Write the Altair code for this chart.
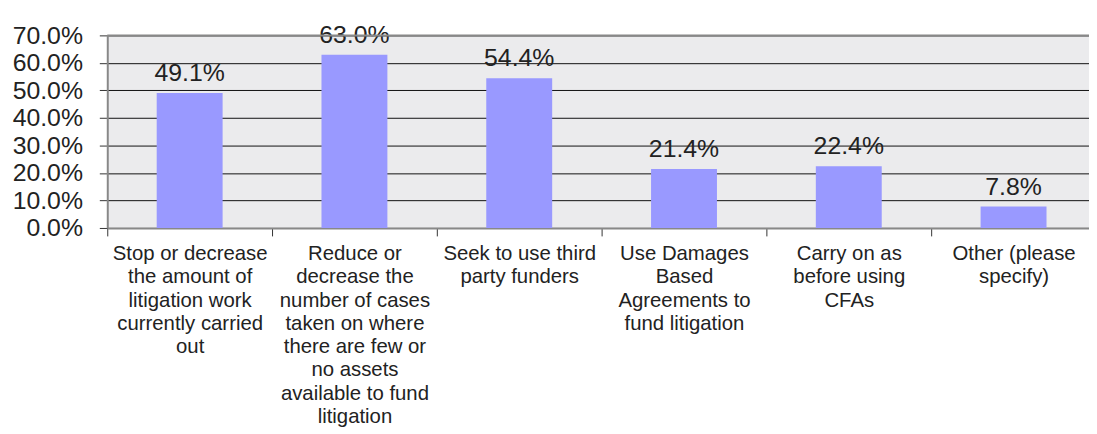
import altair as alt
import pandas as pd

categories = [
    "Stop or decrease|the amount of|litigation work|currently carried|out",
    "Reduce or|decrease the|number of cases|taken on where|there are few or|no assets|available to fund|litigation",
    "Seek to use third|party funders",
    "Use Damages|Based|Agreements to|fund litigation",
    "Carry on as|before using|CFAs",
    "Other (please|specify)",
]
values = [0.491, 0.630, 0.544, 0.214, 0.224, 0.078]
y_ticks = [0.0, 0.1, 0.2, 0.3, 0.4, 0.5, 0.6, 0.7]

df = pd.DataFrame({"cat": categories, "val": values})
FONT = "Liberation Sans"

x_enc = alt.X(
    "cat:N",
    sort=categories,
    title=None,
    scale=alt.Scale(paddingInner=0, paddingOuter=0),
    axis=alt.Axis(
        labelExpr="datum.value ? split(datum.value, '|') : ''",
        labelAngle=0,
        labelFontSize=20.5,
        labelLineHeight=23.4,
        labelLimit=0,
        labelPadding=8,
        labelColor="#222222",
        labelFont=FONT,
        labelOverlap=False,
        tickBand="extent",
        tickSize=8,
        tickColor="#333333",
        domainColor="#888888",
        domainWidth=2,
        grid=False,
    ),
)
y_axis = alt.Axis(
    values=y_ticks,
    format=".1%",
    labelFontSize=25,
    labelFont=FONT,
    labelColor="#222222",
    labelPadding=17,
    labelOverlap=False,
    tickSize=8,
    tickColor="#333333",
    domainColor="#888888",
    domainWidth=2,
    gridColor="#111111",
    gridWidth=1,
)
y_scale = alt.Scale(domain=[0, 0.7], nice=False)
y_enc = alt.Y("val:Q", title=None, scale=y_scale, axis=y_axis)

bars = alt.Chart(df).mark_bar(color="#9999ff", width=alt.RelativeBandSize(0.40)).encode(
    x=x_enc, y=y_enc
)
labels = alt.Chart(df).mark_text(
    baseline="bottom", dy=-7, fontSize=25, font=FONT, color="#222222"
).encode(x=x_enc, y=y_enc, text=alt.Text("val:Q", format=".1%"))
top_rule = alt.Chart(pd.DataFrame({"val": [y_ticks[-1]]})).mark_rule(
    color="#888888", strokeWidth=2
).encode(y=y_enc)

chart = (
    alt.layer(bars, labels, top_rule)
    .properties(
        width=996,
        height=194,
        autosize=alt.AutoSizeParams(type="none"),
        padding={"left": 100, "top": 26, "right": -7, "bottom": 210},
    )
    .configure_view(fill="#ebebed", strokeWidth=0)
)

chart.save("out.html", embed_options={"renderer": "svg", "actions": False})
